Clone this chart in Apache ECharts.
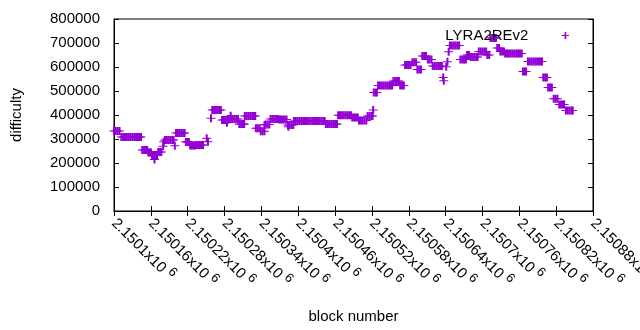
<!DOCTYPE html>
<html>
<head>
<meta charset="utf-8">
<script src="https://cdn.jsdelivr.net/npm/echarts@6/dist/echarts.min.js"></script>
<style>
  html, body { margin: 0; padding: 0; background: #fff; }
  #container { width: 640px; height: 330px; }
</style>
</head>
<body>
<div id="container"></div>
<script>
    // block numbers are stored as offsets from blockBase
    var blockBase = 2150100;
    var seriesName = 'LYRA2REv2';

    var blockOffset = [
        0, 3, 6, 9,
        12, 15, 18, 21, 24, 27, 30, 33, 36, 39, 42, 44,
        46, 49, 52, 54,
        56, 58, 60,
        62, 65, 68, 70, 66,
        72, 75, 77,
        80, 81,
        83, 86, 89, 92, 95, 97,
        99,
        101, 104, 107, 110, 113, 115,
        117, 120, 122,
        124, 127, 130, 132,
        134, 137, 140, 143, 145,
        151, 153,
        158,
        160, 163, 166, 169, 172, 174,
        176, 179, 182, 185,
        187, 190, 193, 196, 199, 202, 190, 184,
        204, 207, 210, 212,
        213, 216, 219, 222, 225, 228, 230,
        231, 234, 237,
        239, 242, 245, 245,
        247, 250, 253,
        255, 258, 261, 264, 267,
        269, 272, 275, 278, 281,
        283, 286, 289, 292, 284,
        293, 296, 299, 302, 305, 308, 311, 314, 317, 320, 323, 326, 329, 332, 335, 338, 341, 343,
        345, 348, 351, 354, 357, 360, 363,
        365, 368, 371, 374, 377, 380, 383, 386,
        388, 391, 394, 397,
        399, 402, 405, 408, 411,
        413, 416, 419, 421, 422,
        423, 426, 428,
        430, 433, 436, 439, 442, 445, 448, 451, 453,
        455, 458, 461, 464,
        466, 469, 472,
        474, 477, 480, 483,
        486, 489, 492,
        494, 497, 500,
        502, 505, 508,
        511, 514, 517,
        519, 522, 525, 528, 531, 534,
        536, 537, 541, 543, 545,
        547, 550, 553, 556, 559, 562,
        564, 567, 570, 573,
        575, 578,
        581, 584, 587, 590, 592,
        594, 597, 600, 603, 606,
        608, 611,
        613, 616, 619, 622,
        624, 627,
        629, 632, 635,
        637, 640, 643, 646, 649, 652, 655, 658, 661, 664,
        666, 669, 671,
        674, 677, 680, 683, 686, 689, 692, 695, 697,
        699, 702, 705,
        707, 710, 713,
        716, 719, 722,
        725, 728, 731, 733,
        736, 739, 742, 745, 747
    ];

    var difficulty = [
        333000, 333000, 333000, 333000,
        308000, 308000, 308000, 308000, 308000, 308000, 308000, 308000, 308000, 308000, 308000, 308000,
        254000, 254000, 254000, 254000,
        244000, 244000, 244000,
        233000, 233000, 233000, 233000, 215000,
        246000, 246000, 246000,
        270000, 289000,
        296000, 296000, 296000, 296000, 296000, 296000,
        272000,
        325000, 325000, 325000, 325000, 325000, 325000,
        288000, 288000, 288000,
        273000, 273000, 273000, 273000,
        275000, 275000, 275000, 275000, 275000,
        303000, 289000,
        386000,
        421000, 421000, 421000, 421000, 421000, 421000,
        379000, 379000, 379000, 379000,
        383000, 383000, 383000, 383000, 383000, 383000, 397000, 368000,
        362000, 362000, 362000, 362000,
        396000, 396000, 396000, 396000, 396000, 396000, 396000,
        345000, 345000, 345000,
        332000, 332000, 332000, 358000,
        360000, 360000, 360000,
        383000, 383000, 383000, 383000, 383000,
        381000, 381000, 381000, 381000, 381000,
        358000, 358000, 358000, 358000, 351000,
        375000, 375000, 375000, 375000, 375000, 375000, 375000, 375000, 375000, 375000, 375000, 375000, 375000, 375000, 375000, 375000, 375000, 375000,
        362000, 362000, 362000, 362000, 362000, 362000, 362000,
        399000, 399000, 399000, 399000, 399000, 399000, 399000, 399000,
        390000, 390000, 390000, 390000,
        377000, 377000, 377000, 377000, 377000,
        396000, 396000, 396000, 396000, 421000,
        494000, 494000, 494000,
        523000, 523000, 523000, 523000, 523000, 523000, 523000, 523000, 523000,
        542000, 542000, 542000, 542000,
        523000, 523000, 523000,
        608000, 608000, 608000, 608000,
        620000, 620000, 620000,
        590000, 590000, 590000,
        646000, 646000, 646000,
        631000, 631000, 631000,
        604000, 604000, 604000, 604000, 604000, 604000,
        556000, 543000, 601000, 622000, 664000,
        690000, 690000, 690000, 690000, 690000, 690000,
        631000, 631000, 631000, 631000,
        650000, 650000,
        642000, 642000, 642000, 642000, 642000,
        665000, 665000, 665000, 665000, 665000,
        650000, 650000,
        721000, 721000, 721000, 721000,
        679000, 679000,
        665000, 665000, 665000,
        656000, 656000, 656000, 656000, 656000, 656000, 656000, 656000, 656000, 656000,
        581000, 581000, 581000,
        623000, 623000, 623000, 623000, 623000, 623000, 623000, 623000, 623000,
        556000, 556000, 556000,
        515000, 515000, 515000,
        468000, 468000, 468000,
        444000, 444000, 444000, 444000,
        419000, 419000, 419000, 419000, 419000
    ];

    var xMin = 2150100, xMax = 2150880, xStep = 60;
    var yMin = 0, yMax = 800000, yStep = 100000;

    var points = [];
    for (var i = 0; i < blockOffset.length; i++) {
        points.push([blockBase + blockOffset[i], difficulty[i]]);
    }

    var font = 'Liberation Sans';
    // gnuplot style "+" point
    var plus = 'path://M0,34H80V44H0Z M31,0H49V78H31Z';

    var option = {
        animation: false,
        backgroundColor: '#fff',
        grid: { left: 114, right: 47, top: 19, bottom: 119, outerBoundsMode: 'none',
                show: true, borderColor: '#000', borderWidth: 1 },
        legend: {
            data: [seriesName],
            right: 66, top: 23,
            align: 'right',
            itemWidth: 8, itemHeight: 7,
            textStyle: { fontFamily: font, fontSize: 15, color: '#000', padding: [0, 28, 0, 0] }
        },
        xAxis: [
            {
                type: 'value', position: 'bottom',
                min: xMin, max: xMax, interval: xStep,
                name: 'block number', nameLocation: 'middle', nameGap: 98,
                nameTextStyle: { fontFamily: font, fontSize: 15, color: '#000' },
                axisLine: { show: true, lineStyle: { color: '#000', width: 1 } },
                axisTick: { show: true, inside: true, length: 5, lineStyle: { color: '#000' } },
                splitLine: { show: false },
                axisLabel: {
                    rotate: -45, margin: 10, color: '#000',
                    formatter: function (v) {
                        var m = parseFloat((v / 1e6).toFixed(5));
                        return '{m|' + m + 'x10}{e|6}';
                    },
                    rich: {
                        m: { fontFamily: font, fontSize: 15, color: '#000' },
                        e: { fontFamily: font, fontSize: 13, color: '#000', padding: [0, 0, 10, 4] }
                    }
                }
            },
            {
                type: 'value', position: 'top',
                min: xMin, max: xMax, interval: xStep,
                axisLine: { show: true, lineStyle: { color: '#000', width: 1 } },
                axisTick: { show: true, inside: true, length: 5, lineStyle: { color: '#000' } },
                axisLabel: { show: false },
                splitLine: { show: false }
            }
        ],
        yAxis: [
            {
                type: 'value', position: 'left',
                min: yMin, max: yMax, interval: yStep,
                name: 'difficulty', nameLocation: 'middle', nameGap: 90,
                nameTextStyle: { fontFamily: font, fontSize: 15, color: '#000' },
                axisLine: { show: true, lineStyle: { color: '#000', width: 1 } },
                axisTick: { show: true, inside: true, length: 5, lineStyle: { color: '#000' } },
                splitLine: { show: false },
                axisLabel: {
                    margin: 14, fontFamily: font, fontSize: 15, color: '#000',
                    formatter: function (v) { return String(v); }
                }
            },
            {
                type: 'value', position: 'right',
                min: yMin, max: yMax, interval: yStep,
                axisLine: { show: true, lineStyle: { color: '#000', width: 1 } },
                axisTick: { show: true, inside: true, length: 5, lineStyle: { color: '#000' } },
                axisLabel: { show: false },
                splitLine: { show: false }
            }
        ],
        series: [
            {
                name: seriesName,
                type: 'scatter',
                xAxisIndex: 0, yAxisIndex: 0,
                symbol: plus,
                symbolSize: [9, 8],
                itemStyle: { color: '#9400d3', opacity: 1 },
                emphasis: { disabled: true },
                data: points
            }
        ]
    };

    var myChart = echarts.init(document.getElementById('container'));
    myChart.setOption(option);
</script>
</body>
</html>
